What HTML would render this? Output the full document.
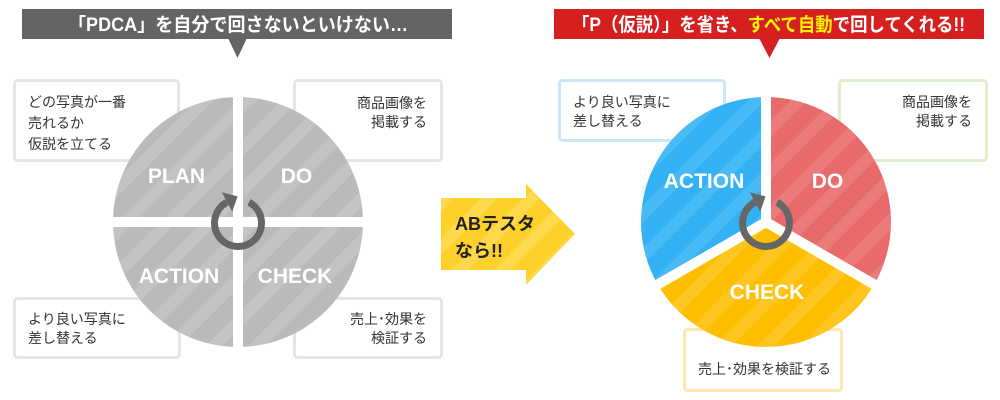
<!DOCTYPE html>
<html>
<head>
<meta charset="utf-8">
<style>
html,body{margin:0;padding:0;background:#fff;}
body{width:1000px;height:400px;overflow:hidden;}
svg{display:block;}
.jp{font-family:"Liberation Sans","Noto Sans CJK JP",sans-serif;}
.lbl{font-family:"Liberation Sans",sans-serif;font-weight:bold;font-size:21px;fill:#fff;}
.bx{font-family:"Liberation Sans","Noto Sans CJK JP",sans-serif;font-size:14px;fill:#333;}
</style>
</head>
<body>
<svg width="1000" height="400" viewBox="0 0 1000 400" xmlns="http://www.w3.org/2000/svg">
<defs>
  <pattern id="pg" patternUnits="userSpaceOnUse" width="30" height="30" patternTransform="rotate(45)">
    <rect width="30" height="30" fill="#bababa"/><rect width="12" height="30" fill="#c3c3c3"/>
  </pattern>
  <pattern id="pr" patternUnits="userSpaceOnUse" width="30" height="30" patternTransform="rotate(45)">
    <rect width="30" height="30" fill="#e86a6a"/><rect width="12" height="30" fill="#eb7a7a"/>
  </pattern>
  <pattern id="pb" patternUnits="userSpaceOnUse" width="30" height="30" patternTransform="rotate(45)">
    <rect width="30" height="30" fill="#33b1f5"/><rect width="12" height="30" fill="#48baf6"/>
  </pattern>
  <pattern id="py" patternUnits="userSpaceOnUse" width="30" height="30" patternTransform="rotate(45)">
    <rect width="30" height="30" fill="#ffbf00"/><rect width="12" height="30" fill="#ffc622"/>
  </pattern>
  <pattern id="pa" patternUnits="userSpaceOnUse" width="30" height="30" patternTransform="rotate(45)">
    <rect width="30" height="30" fill="#fdd02a"/><rect width="12" height="30" fill="#fdd94b"/>
  </pattern>
</defs>

<!-- Left header -->
<rect x="22" y="9" width="430" height="30" fill="#646464"/>
<polygon points="228,38 247,38 237.5,58" fill="#646464"/>
<text class="jp" x="68" y="31" font-size="19" font-weight="bold" fill="#fff" textLength="340" lengthAdjust="spacingAndGlyphs">「PDCA」を自分で回さないといけない…</text>

<!-- Right header -->
<rect x="554" y="9" width="430" height="30" fill="#d61f1f"/>
<polygon points="759,38 780,38 769.5,58" fill="#d61f1f"/>
<text class="jp" x="572" y="31" font-size="19" font-weight="bold" fill="#fff" textLength="393" lengthAdjust="spacingAndGlyphs">「P（仮説）」を省き、<tspan fill="#fff200">すべて自動</tspan>で回してくれる!!</text>

<!-- Left boxes -->
<rect x="14.5" y="80.5" width="164" height="80" rx="3" fill="#fff" stroke="#e5e5e5" stroke-width="3"/>
<rect x="294.5" y="80.5" width="147" height="80" rx="3" fill="#fff" stroke="#e5e5e5" stroke-width="3"/>
<rect x="14.5" y="298.5" width="165" height="59" rx="3" fill="#fff" stroke="#e5e5e5" stroke-width="3"/>
<rect x="294.5" y="298.5" width="147" height="59" rx="3" fill="#fff" stroke="#e5e5e5" stroke-width="3"/>

<text class="bx" x="28" y="107">どの写真が一番</text>
<text class="bx" x="28" y="128">売れるか</text>
<text class="bx" x="28" y="149">仮説を立てる</text>
<text class="bx" x="427" y="108" text-anchor="end">商品画像を</text>
<text class="bx" x="427" y="127" text-anchor="end">掲載する</text>
<text class="bx" x="28" y="324">より良い写真に</text>
<text class="bx" x="28" y="343">差し替える</text>
<text class="bx" x="427" y="324" text-anchor="end">売上･効果を</text>
<text class="bx" x="427" y="343" text-anchor="end">検証する</text>

<!-- Left circle quadrants -->
<path d="M233,217 L233,97.1 A125,125 0 0 0 113.1,217 Z" fill="url(#pg)"/>
<path d="M243,217 L362.9,217 A125,125 0 0 0 243,97.1 Z" fill="url(#pg)"/>
<path d="M233,227 L113.1,227 A125,125 0 0 0 233,346.9 Z" fill="url(#pg)"/>
<path d="M243,227 L243,346.9 A125,125 0 0 0 362.9,227 Z" fill="url(#pg)"/>

<text class="lbl" x="176.5" y="183" text-anchor="middle">PLAN</text>
<text class="lbl" x="296.5" y="183" text-anchor="middle">DO</text>
<text class="lbl" x="179" y="283" text-anchor="middle">ACTION</text>
<text class="lbl" x="295" y="283" text-anchor="middle">CHECK</text>

<!-- Left ring arrow -->
<path d="M249.03,202.25 A23.5,23.5 0 1 1 226.97,202.25" fill="none" stroke="#666" stroke-width="7"/>
<polygon points="232.2,211.7 221.8,192.3 237.6,196.4" fill="#666"/>

<!-- Yellow arrow -->
<polygon points="441,198 526,198 526,184 575,234 526,285 526,270 441,270" fill="url(#pa)"/>
<text class="jp" x="455" y="230" font-size="18" font-weight="bold" fill="#222">ABテスタ</text>
<text class="jp" x="455" y="257" font-size="18" font-weight="bold" fill="#222">なら!!</text>

<!-- Right boxes -->
<rect x="559.5" y="80.5" width="165" height="60" rx="3" fill="#fff" stroke="#c8e8fa" stroke-width="3"/>
<rect x="839.5" y="80.5" width="147" height="80" rx="3" fill="#fff" stroke="#dfeecb" stroke-width="3"/>
<rect x="684.5" y="329.5" width="157" height="61" rx="3" fill="#fff" stroke="#fde9ad" stroke-width="3"/>

<text class="bx" x="573" y="107">より良い写真に</text>
<text class="bx" x="573" y="126">差し替える</text>
<text class="bx" x="972" y="107" text-anchor="end">商品画像を</text>
<text class="bx" x="972" y="126" text-anchor="end">掲載する</text>
<text class="bx" x="764.5" y="374" text-anchor="middle">売上･効果を検証する</text>

<!-- Right circle sectors -->
<path d="M766,222 L766,97 A125,125 0 0 1 874.25,284.5 Z" fill="url(#pr)"/>
<path d="M766,222 L874.25,284.5 A125,125 0 0 1 657.75,284.5 Z" fill="url(#py)"/>
<path d="M766,222 L657.75,284.5 A125,125 0 0 1 766,97 Z" fill="url(#pb)"/>
<line x1="766" y1="222" x2="766" y2="95" stroke="#fff" stroke-width="10"/>
<line x1="766" y1="222" x2="876" y2="285.5" stroke="#fff" stroke-width="10"/>
<line x1="766" y1="222" x2="656" y2="285.5" stroke="#fff" stroke-width="10"/>

<text class="lbl" x="704" y="188" text-anchor="middle">ACTION</text>
<text class="lbl" x="827.5" y="188" text-anchor="middle">DO</text>
<text class="lbl" x="767" y="299" text-anchor="middle">CHECK</text>

<!-- Right ring arrow -->
<path d="M777.03,202.25 A23.5,23.5 0 1 1 754.97,202.25" fill="none" stroke="#666" stroke-width="7"/>
<polygon points="760.2,211.7 749.8,192.3 765.6,196.4" fill="#666"/>
</svg>
</body>
</html>
